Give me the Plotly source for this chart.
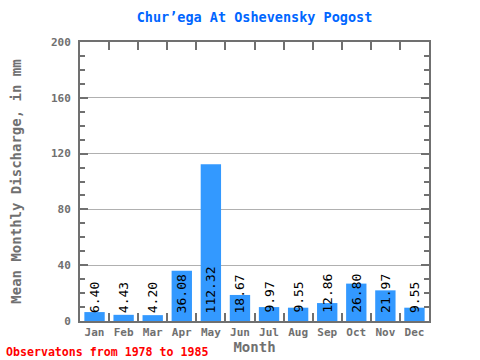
import plotly.graph_objects as go

months = ["Jan", "Feb", "Mar", "Apr", "May", "Jun", "Jul", "Aug", "Sep", "Oct", "Nov", "Dec"]
discharge = [6.40, 4.43, 4.20, 36.08, 112.32, 18.67, 9.97, 9.55, 12.86, 26.80, 21.97, 9.55]
value_labels = ["6.40", "4.43", "4.20", "36.08", "112.32", "18.67", "9.97", "9.55", "12.86", "26.80", "21.97", "9.55"]
y_ticks = [0, 40, 80, 120, 160, 200]

MONO = "DejaVu Sans Mono"
GRAY = "#707070"

fig = go.Figure()
fig.add_trace(go.Bar(
    x=months, y=discharge, width=0.7,
    marker=dict(color="#3399FF", line=dict(width=0)),
    hoverinfo="skip",
))

annotations = []
for m, v, t in zip(months, discharge, value_labels):
    annotations.append(dict(
        x=m, y=0, xref="x", yref="y", text=t, textangle=-90,
        showarrow=False, xanchor="center", yanchor="bottom", yshift=6,
        font=dict(family=MONO, size=13, color="black"),
    ))

annotations.append(dict(
    xref="paper", yref="paper", x=(4 - 80) / 349, y=(321 - 352) / 279,
    xanchor="left", yanchor="middle", showarrow=False,
    text="Observatons from 1978 to 1985",
    font=dict(family=MONO, size=11.6, color="#FF0000", weight="bold"),
))

fig.update_layout(
    width=480, height=360,
    margin=dict(l=80, r=51, t=42, b=39),
    paper_bgcolor="white", plot_bgcolor="white",
    showlegend=False,
    title=dict(text="Chur’ega At Oshevensky Pogost", x=0.5, xref="paper", xanchor="center",
               y=1 - 17 / 360, yanchor="middle",
               font=dict(family=MONO, size=13.5, color="#0066FF", weight="bold")),
    annotations=annotations,
    xaxis=dict(
        type="category", range=[-0.5, 11.5], automargin=False, tickangle=0,
        showline=True, linecolor=GRAY, linewidth=2, mirror="ticks",
        ticks="inside", tickson="boundaries", ticklen=8, tickwidth=2, tickcolor=GRAY,
        tickfont=dict(family=MONO, size=11, color=GRAY, weight="bold"),
        showgrid=False,
        title=dict(text="Month", standoff=4,
                   font=dict(family=MONO, size=14, color=GRAY, weight="bold")),
    ),
    yaxis=dict(
        range=[0, 200], tickvals=y_ticks, ticktext=[str(v) for v in y_ticks], automargin=False,
        showline=True, linecolor=GRAY, linewidth=2, mirror="ticks",
        ticks="inside", ticklen=8, tickwidth=2, tickcolor=GRAY, ticklabelstandoff=5,
        minor=dict(dtick=10, ticks="inside", ticklen=5, tickwidth=2, tickcolor=GRAY, showgrid=False),
        tickfont=dict(family=MONO, size=11, color=GRAY, weight="bold"),
        showgrid=True, gridcolor="#B0B0B0", gridwidth=1,
        zeroline=False,
        title=dict(text="Mean Monthly Discharge, in mm", standoff=26,
                   font=dict(family=MONO, size=14, color=GRAY, weight="bold")),
    ),
)

fig.write_html("out.html", config={"displayModeBar": False},
               post_script="document.body.style.margin='0';")
